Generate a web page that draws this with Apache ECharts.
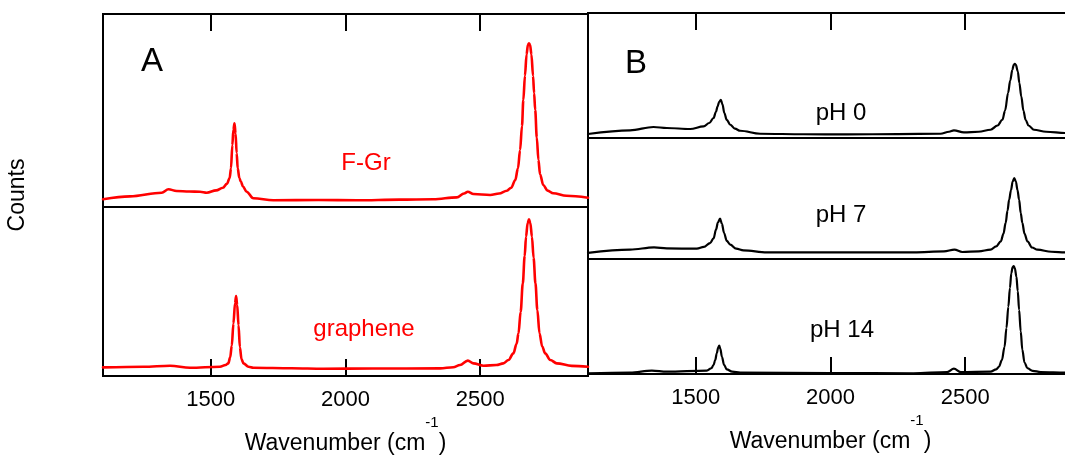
<!DOCTYPE html>
<html>
<head>
<meta charset="utf-8">
<title>Raman spectra</title>
<script src="https://cdn.jsdelivr.net/npm/echarts@6/dist/echarts.min.js"></script>
<style>
  html, body { margin: 0; padding: 0; background: #fff; }
  #chart { width: 1065px; height: 472px; }
</style>
</head>
<body>
<div id="chart"></div>
<script>
// Raman spectra, [wavenumber (cm-1), counts in arbitrary units]
const fgrSpectrum = [
  [1100, 4.0], [1200, 5.5], [1318, 7.4], [1343, 9.2], [1373, 8.3], [1420, 8.0], [1460, 7.9],
  [1485, 7.4], [1520, 8.6], [1545, 10.0], [1560, 12.0], [1570, 15.0], [1575, 20.0], [1580, 32.0],
  [1584, 40.0], [1588, 43.4], [1592, 38.0], [1596, 28.0], [1600, 20.0], [1606, 15.0], [1612, 13.0],
  [1620, 10.5], [1633, 7.9], [1658, 4.5], [1732, 3.5], [1900, 3.6], [2042, 3.5], [2200, 3.8],
  [2326, 4.0], [2413, 5.0], [2440, 7.0], [2454, 7.9], [2475, 6.7], [2537, 6.2], [2570, 7.0],
  [2599, 8.4], [2615, 10.0], [2630, 14.0], [2640, 20.0], [2648, 29.5], [2655, 42.0], [2660, 55.4],
  [2666, 68.0], [2672, 79.0], [2677, 84.0], [2681, 84.8], [2685, 84.0], [2690, 79.0], [2696, 68.0],
  [2700, 59.0], [2704, 50.3], [2710, 36.0], [2716, 24.4], [2722, 17.0], [2734, 11.4], [2750, 8.5],
  [2771, 7.1], [2820, 5.8], [2900, 4.8]
];
const grapheneSpectrum = [
  [1100, 5.1], [1250, 5.5], [1349, 6.1], [1423, 4.9], [1534, 5.5], [1555, 6.5], [1565, 7.5],
  [1572, 11.0], [1578, 18.0], [1584, 31.0], [1590, 43.0], [1594, 47.3], [1598, 42.0], [1603, 30.0],
  [1608, 17.0], [1614, 10.0], [1621, 7.5], [1640, 5.5], [1658, 4.9], [1800, 4.6], [1918, 4.3],
  [2100, 4.4], [2351, 4.5], [2400, 5.2], [2425, 6.5], [2454, 9.1], [2475, 7.5], [2512, 6.1],
  [2560, 6.5], [2586, 7.5], [2605, 9.5], [2623, 13.4], [2635, 19.0], [2642, 25.2], [2650, 38.0],
  [2658, 54.8], [2665, 71.0], [2670, 82.4], [2676, 90.5], [2681, 92.7], [2686, 90.5], [2692, 82.4],
  [2698, 70.0], [2705, 54.8], [2712, 39.0], [2720, 25.2], [2730, 17.5], [2741, 13.4], [2760, 9.5],
  [2784, 7.5], [2840, 6.0], [2900, 5.5]
];
const ph0Spectrum = [
  [1100, 3.2], [1256, 6.1], [1343, 8.8], [1392, 8.0], [1479, 7.2], [1529, 9.3], [1550, 12.0],
  [1566, 16.0], [1575, 21.0], [1581, 25.3], [1587, 29.0], [1593, 30.6], [1599, 27.0], [1606, 20.0],
  [1615, 14.5], [1628, 10.6], [1645, 7.5], [1665, 5.8], [1739, 3.4], [1900, 3.0], [2061, 2.9],
  [2250, 3.1], [2408, 3.4], [2440, 5.0], [2458, 6.1], [2495, 4.5], [2550, 5.0], [2594, 6.6],
  [2620, 10.0], [2638, 14.6], [2648, 22.0], [2659, 36.0], [2667, 46.0], [2675, 54.6], [2680, 58.5],
  [2684, 59.4], [2688, 58.5], [2695, 53.3], [2701, 44.0], [2708, 33.3], [2716, 22.0], [2724, 14.6],
  [2735, 10.0], [2755, 6.6], [2800, 5.0], [2873, 4.0], [2900, 4.0]
];
const ph7Spectrum = [
  [1100, 5.0], [1256, 7.7], [1345, 9.6], [1392, 8.8], [1504, 8.5], [1530, 10.0], [1553, 13.2],
  [1566, 17.0], [1575, 24.2], [1582, 30.0], [1590, 33.3], [1597, 29.0], [1605, 21.5], [1615, 15.0],
  [1628, 11.8], [1650, 8.5], [1677, 7.1], [1764, 5.5], [2000, 5.4], [2309, 5.5], [2421, 6.3],
  [2460, 7.7], [2489, 5.8], [2550, 6.3], [2594, 7.7], [2615, 10.5], [2632, 14.5], [2642, 21.0],
  [2650, 29.8], [2657, 40.0], [2663, 49.0], [2670, 57.0], [2676, 64.0], [2682, 66.9], [2688, 64.0],
  [2694, 57.0], [2700, 49.0], [2706, 38.0], [2712, 29.8], [2720, 21.0], [2731, 14.5], [2748, 9.5],
  [2768, 7.7], [2820, 6.0], [2873, 5.5], [2900, 5.5]
];
const ph14Spectrum = [
  [1100, 0.6], [1256, 1.2], [1337, 2.9], [1392, 2.0], [1541, 2.9], [1558, 5.0], [1566, 7.8],
  [1572, 12.0], [1578, 18.0], [1583, 23.0], [1587, 24.6], [1591, 22.0], [1597, 15.0], [1605, 8.0],
  [1615, 4.1], [1635, 2.0], [1665, 1.2], [2000, 0.8], [2308, 0.6], [2433, 1.7], [2458, 4.6],
  [2483, 1.7], [2594, 2.0], [2615, 4.0], [2625, 6.3], [2636, 12.0], [2646, 23.7], [2653, 40.0],
  [2660, 58.5], [2666, 75.0], [2671, 87.6], [2676, 93.0], [2680, 93.9], [2684, 92.0], [2690, 84.6],
  [2695, 72.0], [2700, 55.7], [2706, 37.0], [2712, 20.9], [2720, 10.0], [2731, 5.0], [2750, 2.8],
  [2780, 1.7], [2873, 1.2], [2900, 1.2]
];

const xTicks = [1500, 2000, 2500];
const xRange = [1100, 2900];
const xTitle = 'Wavenumber (cm';
const xTitleSup = '-1';
const yTitle = 'Counts';
const panelLetters = ['A', 'B'];
const traceNames = ['F-Gr', 'graphene', 'pH 0', 'pH 7', 'pH 14'];

const FONT = "'Liberation Sans', Arial, Helvetica, sans-serif";
const RED = '#ff0000';
const BLACK = '#000000';

// five stacked plot boxes: two on the left, three on the right (the right column runs past the page edge)
const grids = [
  { left: 103, top: 14,  width: 485, height: 193 },
  { left: 103, top: 207, width: 485, height: 169 },
  { left: 588, top: 13,  width: 485, height: 125 },
  { left: 588, top: 138, width: 485, height: 121 },
  { left: 588, top: 259, width: 485, height: 115 }
].map(g => Object.assign(g, {
  show: true, borderColor: BLACK, borderWidth: 2, backgroundColor: 'transparent',
  containLabel: false, outerBoundsMode: 'none'
}));

// tick placement per box: 'top' boxes carry ticks on top, 'bottom' boxes carry ticks + labels + title
const tickSide = ['top', 'bottom', 'top', 'none', 'bottom'];

const xAxes = tickSide.map((side, i) => {
  const base = {
    gridIndex: i, type: 'value', min: xRange[0], max: xRange[1],
    position: side === 'top' ? 'top' : 'bottom',
    axisLine: { show: false, onZero: false },
    splitLine: { show: false },
    axisTick: {
      show: side !== 'none', inside: true, length: 17,
      customValues: xTicks, lineStyle: { color: BLACK, width: 2 }
    },
    axisLabel: {
      show: side === 'bottom', customValues: xTicks, margin: 13,
      color: BLACK, fontSize: 22, fontFamily: FONT,
      formatter: v => String(v)
    }
  };
  if (side === 'bottom') {
    base.name = '{a|' + xTitle + '}{s|' + xTitleSup + '}{a|)}';
    base.nameLocation = 'middle';
    base.nameGap = 39;
    base.nameTextStyle = {
      rich: {
        a: { fontSize: 23, fontFamily: FONT, color: BLACK, lineHeight: 40, verticalAlign: 'bottom' },
        s: { fontSize: 15, fontFamily: FONT, color: BLACK, lineHeight: 40, verticalAlign: 'top' }
      }
    };
  }
  return base;
});

const yAxes = grids.map((g, i) => ({
  gridIndex: i, type: 'value', min: 0, max: 100,
  show: false
}));

const spectra = [fgrSpectrum, grapheneSpectrum, ph0Spectrum, ph7Spectrum, ph14Spectrum];
const colors = [RED, RED, BLACK, BLACK, BLACK];
const widths = [2.6, 2.6, 2.2, 2.2, 2.2];

const series = spectra.map((data, i) => ({
  name: traceNames[i],
  type: 'line',
  xAxisIndex: i, yAxisIndex: i,
  data: data,
  showSymbol: false,
  smooth: 0.35,
  smoothMonotone: 'x',
  clip: true,
  lineStyle: { color: colors[i], width: widths[i], join: 'round', cap: 'round' },
  silent: true
}));

function txt(text, x, y, size, color, extra) {
  return Object.assign({
    type: 'text', x: x, y: y, silent: true,
    style: { text: text, fontSize: size, fontFamily: FONT, fill: color, textAlign: 'center', textVerticalAlign: 'middle' }
  }, extra || {});
}

const graphics = [
  txt(panelLetters[0], 152, 62, 33, BLACK),
  txt(panelLetters[1], 636, 64, 33, BLACK),
  txt(traceNames[0], 366, 163, 24, RED),
  txt(traceNames[1], 364, 329, 24, RED),
  txt(traceNames[2], 841, 113, 24, BLACK),
  txt(traceNames[3], 841, 215, 24, BLACK),
  txt(traceNames[4], 842, 330, 24, BLACK),
  txt(yTitle, 18, 195, 23, BLACK, { rotation: Math.PI / 2 })
];

const chart = echarts.init(document.getElementById('chart'), null, { renderer: 'canvas' });
chart.setOption({
  animation: false,
  backgroundColor: '#ffffff',
  grid: grids,
  xAxis: xAxes,
  yAxis: yAxes,
  series: series,
  graphic: graphics
});
</script>
</body>
</html>
